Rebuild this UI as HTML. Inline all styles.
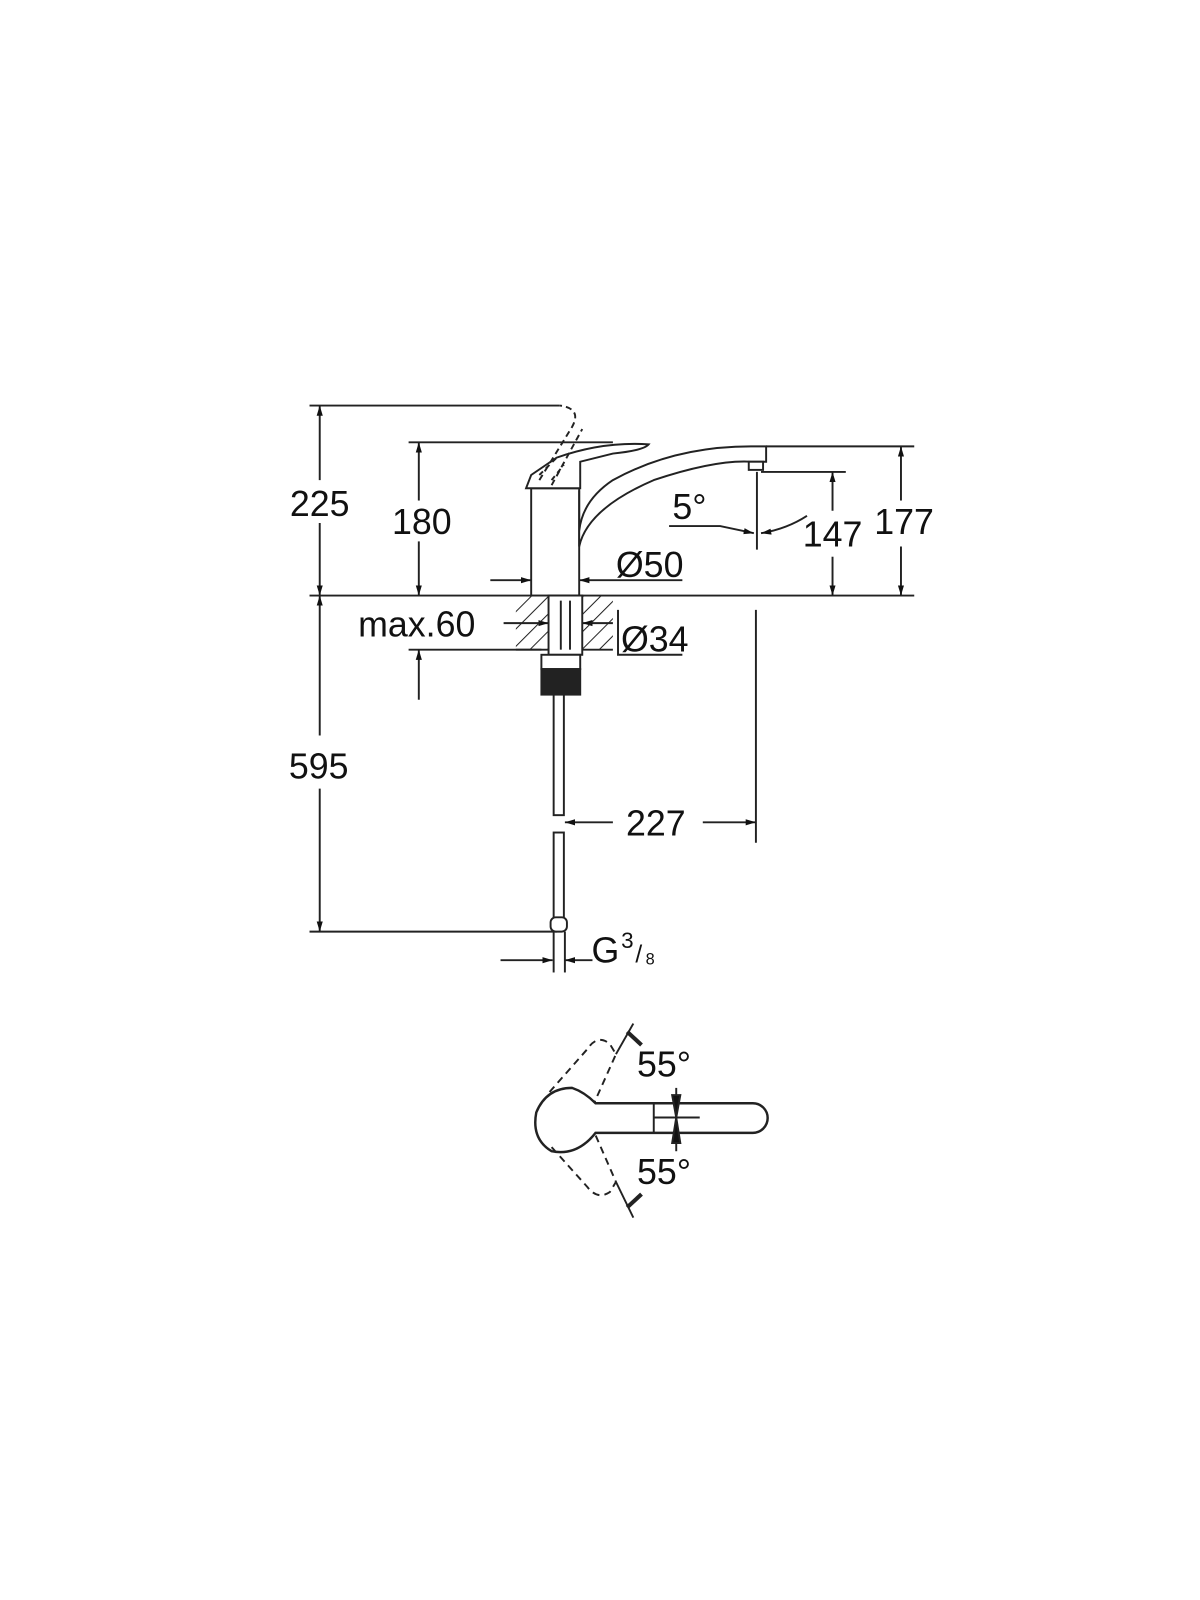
<!DOCTYPE html>
<html><head><meta charset="utf-8"><style>
html,body{margin:0;padding:0;background:#fff}
svg{display:block}
text{font-family:"Liberation Sans",Arial,sans-serif;fill:#111}
</style></head><body>
<svg width="1200" height="1600" viewBox="0 0 1200 1600" xmlns="http://www.w3.org/2000/svg">
<defs>
<marker id="a" viewBox="0 0 10 10" refX="10" refY="5" markerWidth="10" markerHeight="10" orient="auto-start-reverse" markerUnits="userSpaceOnUse"><path d="M0,2 L10,5 L0,8 Z" fill="#111"/></marker>
<pattern id="h" patternUnits="userSpaceOnUse" width="12" height="12" patternTransform="rotate(45)"><line x1="0" y1="0" x2="0" y2="12" stroke="#222" stroke-width="2"/></pattern>
</defs>
<g transform="scale(1.0215)">
<g stroke="#222" stroke-width="1.9" fill="none">
<line x1="303" y1="397" x2="548" y2="397"/>
<line x1="400" y1="433" x2="600" y2="433"/>
<line x1="303" y1="583" x2="895" y2="583"/>
<line x1="750" y1="437" x2="895" y2="437"/>
<line x1="745" y1="462" x2="828" y2="462"/>
<line x1="400" y1="636" x2="530" y2="636"/>
<line x1="303" y1="912" x2="545" y2="912"/>
<line x1="313" y1="470" x2="313" y2="397" marker-end="url(#a)"/>
<line x1="313" y1="512" x2="313" y2="583" marker-end="url(#a)"/>
<line x1="313" y1="720" x2="313" y2="583" marker-end="url(#a)"/>
<line x1="313" y1="772" x2="313" y2="912" marker-end="url(#a)"/>
<line x1="410" y1="490" x2="410" y2="433" marker-end="url(#a)"/>
<line x1="410" y1="530" x2="410" y2="583" marker-end="url(#a)"/>
<line x1="410" y1="685" x2="410" y2="636" marker-end="url(#a)"/>
<line x1="815" y1="500" x2="815" y2="462" marker-end="url(#a)"/>
<line x1="815" y1="545" x2="815" y2="583" marker-end="url(#a)"/>
<line x1="882" y1="490" x2="882" y2="437" marker-end="url(#a)"/>
<line x1="882" y1="535" x2="882" y2="583" marker-end="url(#a)"/>
<line x1="480" y1="568" x2="520" y2="568" marker-end="url(#a)"/>
<line x1="668" y1="568" x2="567" y2="568" marker-end="url(#a)"/>
<line x1="493" y1="610" x2="537" y2="610" marker-end="url(#a)"/>
<line x1="600" y1="610" x2="570" y2="610" marker-end="url(#a)"/>
<polyline points="605,597 605,641 668,641"/>
<line x1="740" y1="597" x2="740" y2="825"/>
<line x1="600" y1="805" x2="553" y2="805" marker-end="url(#a)"/>
<line x1="688" y1="805" x2="740" y2="805" marker-end="url(#a)"/>
<line x1="490" y1="940" x2="541" y2="940" marker-end="url(#a)"/>
<line x1="580" y1="940" x2="553" y2="940" marker-end="url(#a)"/>
<line x1="741" y1="462" x2="741" y2="538"/>
<polyline points="655,515 705,515 738,522" marker-end="url(#a)"/>
<path d="M790,505 Q770,518 745,522" marker-end="url(#a)"/>
<rect x="520" y="478" width="47" height="105" fill="#fff"/>
<path d="M515,478 L520,465 L545,448 Q590,432 635,435 Q630,441 600,444 L568,452 L568,478 Z" fill="#fff"/>
<path d="M528,465 L545,448 M540,470 L552,455" stroke-dasharray="5,4"/>
<path d="M528,470 L560,418 Q570,400 548,397 M540,475 L570,420" stroke-dasharray="6,4"/>
<path d="M567,480 L567,535 Q575,498 640,470 Q700,450 735,452 L750,452 L750,437 L735,437 Q660,437 600,470 Q570,490 567,520" fill="#fff"/>
<rect x="733" y="452" width="14" height="8" fill="#fff"/>
<rect x="505" y="583" width="32" height="53" fill="url(#h)" stroke="none"/>
<rect x="570" y="583" width="30" height="53" fill="url(#h)" stroke="none"/>
<line x1="505" y1="636" x2="600" y2="636"/>
<rect x="537" y="583" width="33" height="58" fill="#fff"/>
<line x1="549" y1="588" x2="549" y2="636"/><line x1="558" y1="588" x2="558" y2="636"/>
<rect x="530" y="641" width="38" height="14" fill="#fff"/>
<rect x="530" y="655" width="38" height="25" fill="#222"/>
<rect x="542" y="680" width="10" height="118" fill="#fff"/>
<rect x="542" y="815" width="10" height="85" fill="#fff"/>
<rect x="539" y="898" width="16" height="14" rx="5" fill="#fff"/>
<line x1="542" y1="912" x2="542" y2="952"/><line x1="553" y1="912" x2="553" y2="952"/>
<g transform="translate(0,-3)">
<path d="M583,1083 L737,1083 A14,14 0 0 1 737,1112 L583,1112 Q565,1135 540,1130 Q520,1118 525,1092 Q535,1068 560,1068 Q572,1072 583,1083 Z" fill="#fff" stroke-width="2.4"/>
<line x1="640" y1="1083" x2="640" y2="1112"/>
<line x1="640" y1="1097" x2="685" y2="1097"/>
<g stroke-dasharray="7,5">
<path d="M538,1072 L575,1030 Q585,1015 597,1025 L603,1035 L582,1082"/>
<path d="M540,1126 L575,1165 Q585,1178 597,1170 L603,1160 L582,1112"/>
</g>
<line x1="603" y1="1035" x2="620" y2="1005"/>
<line x1="603" y1="1160" x2="620" y2="1195"/>
<line x1="614" y1="1013" x2="628" y2="1026" stroke-width="4"/>
<line x1="614" y1="1185" x2="628" y2="1172" stroke-width="4"/>
<line x1="662" y1="1068" x2="662" y2="1130"/>
<path d="M658,1075 L666,1075 L662,1097 Z M658,1122 L666,1122 L662,1097 Z" fill="#111"/>
</g>
</g>
<g font-size="35" text-anchor="middle">
<text x="313" y="505">225</text>
<text x="413" y="523">180</text>
<text x="675" y="508">5°</text>
<text x="815" y="535">147</text>
<text x="885" y="523">177</text>
<text x="636" y="565">Ø50</text>
<text x="408" y="623">max.60</text>
<text x="641" y="638">Ø34</text>
<text x="312" y="762">595</text>
<text x="642" y="818">227</text>
<text x="650" y="1054">55°</text>
<text x="650" y="1159">55°</text>
</g>
<g font-size="35">
<text x="579" y="942">G</text>
<text x="608" y="928" font-size="22">3</text>
<text x="622" y="942" font-size="24">/</text>
<text x="632" y="944" font-size="16">8</text>
</g>
</g>
</svg>
</body></html>
